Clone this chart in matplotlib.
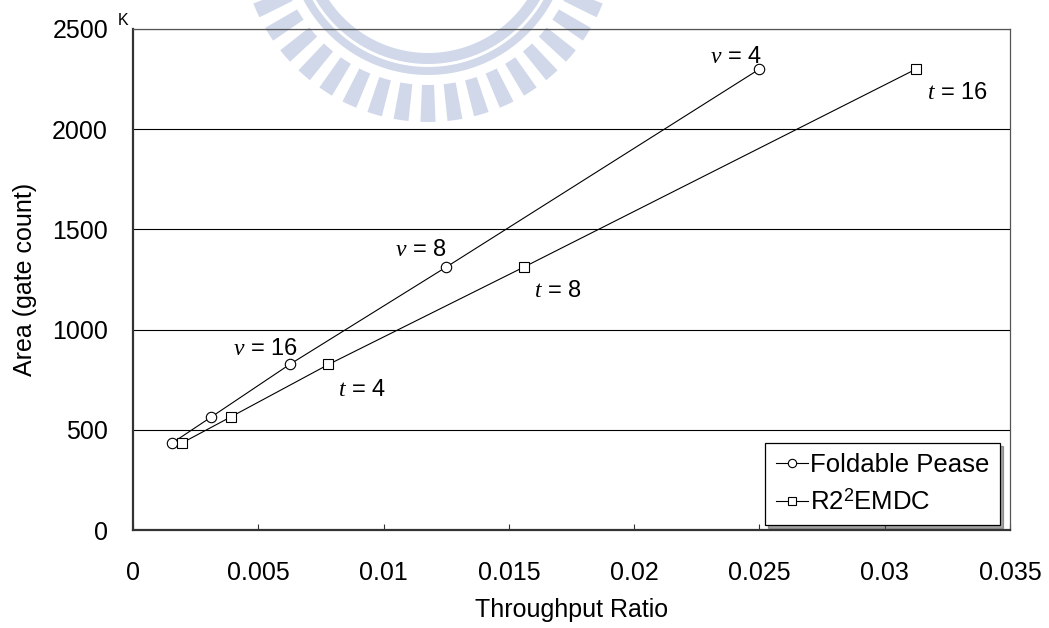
import numpy as np
import matplotlib
matplotlib.use("Agg")
import matplotlib.pyplot as plt
from matplotlib.patches import Polygon

# Throughput ratio vs. area (thousand gates) for the two architectures
ratio_pease = [0.0015625, 0.003125, 0.00625, 0.0125, 0.025]
area_pease = [434, 564, 826, 1312, 2300]
ratio_emdc = [0.00195, 0.0039, 0.0078, 0.0156, 0.03125]
area_emdc = [434, 564, 826, 1312, 2300]

series_names = ["Foldable Pease", "R2$^{2}$EMDC"]
x_ticks = [0, 0.005, 0.01, 0.015, 0.02, 0.025, 0.03, 0.035]
x_tick_labels = ["0", "0.005", "0.01", "0.015", "0.02", "0.025", "0.03", "0.035"]
y_ticks = [0, 500, 1000, 1500, 2000, 2500]

# Point annotations: (text, x, y)
pease_notes = [("$v$ = 4", 0.02303, 2330), ("$v$ = 8", 0.01046, 1367), ("$v$ = 16", 0.00399, 873)]
emdc_notes = [("$t$ = 16", 0.03169, 2151), ("$t$ = 8", 0.0160, 1163), ("$t$ = 4", 0.00818, 669)]

plt.rcParams["font.family"] = ["Liberation Sans", "DejaVu Sans"]
plt.rcParams["mathtext.fontset"] = "custom"
plt.rcParams["mathtext.rm"] = "Liberation Sans"
plt.rcParams["mathtext.it"] = "Liberation Serif:italic"

W, H = 1049, 628
fig = plt.figure(figsize=(W / 100, H / 100), dpi=100, facecolor="white")

# Faint university seal behind the chart
bg = fig.add_axes([0, 0, 1, 1], zorder=-1)
bg.set_xlim(0, W)
bg.set_ylim(H, 0)
bg.axis("off")
seal = "#d0d8ea"
cx, cy = 428, -66


def ring_segment(r0, r1, a0, a1, n=80):
    t = np.radians(np.linspace(a0, a1, n))
    outer = np.column_stack([cx + r1 * np.cos(t), cy + r1 * np.sin(t)])
    inner = np.column_stack([cx + r0 * np.cos(t[::-1]), cy + r0 * np.sin(t[::-1])])
    return np.vstack([outer, inner])


for r0, r1 in [(119, 130), (133, 141)]:
    bg.add_patch(Polygon(ring_segment(r0, r1, 0, 180), closed=True, color=seal, lw=0))
for k in range(-8, 9):
    a = 90 + k * 8.25
    bg.add_patch(Polygon(ring_segment(151, 188, a - 2.3, a + 2.3, n=8), closed=True, color=seal, lw=0))

ax = fig.add_axes([133 / W, 1 - 530 / H, 877 / W, 501 / H])
ax.set_facecolor("none")

ax.plot(ratio_pease, area_pease, color="black", lw=0.8, marker="o", ms=7.5,
        mfc="white", mec="black", mew=0.8, label=series_names[0], zorder=4)
ax.plot(ratio_emdc, area_emdc, color="black", lw=0.8, marker="s", ms=7.5,
        mfc="white", mec="black", mew=0.8, label=series_names[1], zorder=4)

for txt, x, y in pease_notes + emdc_notes:
    ax.text(x, y, txt, fontsize=17, ha="left", va="baseline", zorder=5)

ax.set_xlim(0, 0.035)
ax.set_ylim(0, 2500)
ax.set_xticks(x_ticks)
ax.set_xticklabels(x_tick_labels)
ax.set_yticks(y_ticks)
ax.tick_params(axis="x", direction="in", length=4.3, width=0.8, pad=22, labelsize=18, color="#333333")
ax.tick_params(axis="y", length=0, pad=18, labelsize=18)
ax.yaxis.grid(True, color="black", lw=0.8)
ax.set_axisbelow(True)

for side in ["left", "bottom"]:
    ax.spines[side].set_linewidth(1.6)
    ax.spines[side].set_color("#333333")
for side in ["top", "right"]:
    ax.spines[side].set_linewidth(0.9)
    ax.spines[side].set_color("#555555")

ax.set_xlabel("Throughput Ratio", fontsize=18)
ax.xaxis.set_label_coords(0.5, -0.135)
ax.set_ylabel("Area (gate count)", fontsize=18)
ax.yaxis.set_label_coords(-0.109, 0.5)

fig.text(118 / W, 1 - 25 / H, "K", fontsize=11.5, ha="left", va="baseline")

leg = ax.legend(loc="lower right", bbox_to_anchor=(1000 / W, 1 - 525 / H),
                bbox_transform=fig.transFigure, fontsize=18.5, frameon=True,
                fancybox=False, shadow=True, framealpha=1, edgecolor="black",
                borderpad=0.4, labelspacing=0.45, handlelength=1.25,
                handletextpad=0.1, borderaxespad=0, numpoints=1, markerscale=0.8)
leg.get_frame().set_linewidth(0.9)

fig.savefig("out.png", dpi=100, facecolor="white")
